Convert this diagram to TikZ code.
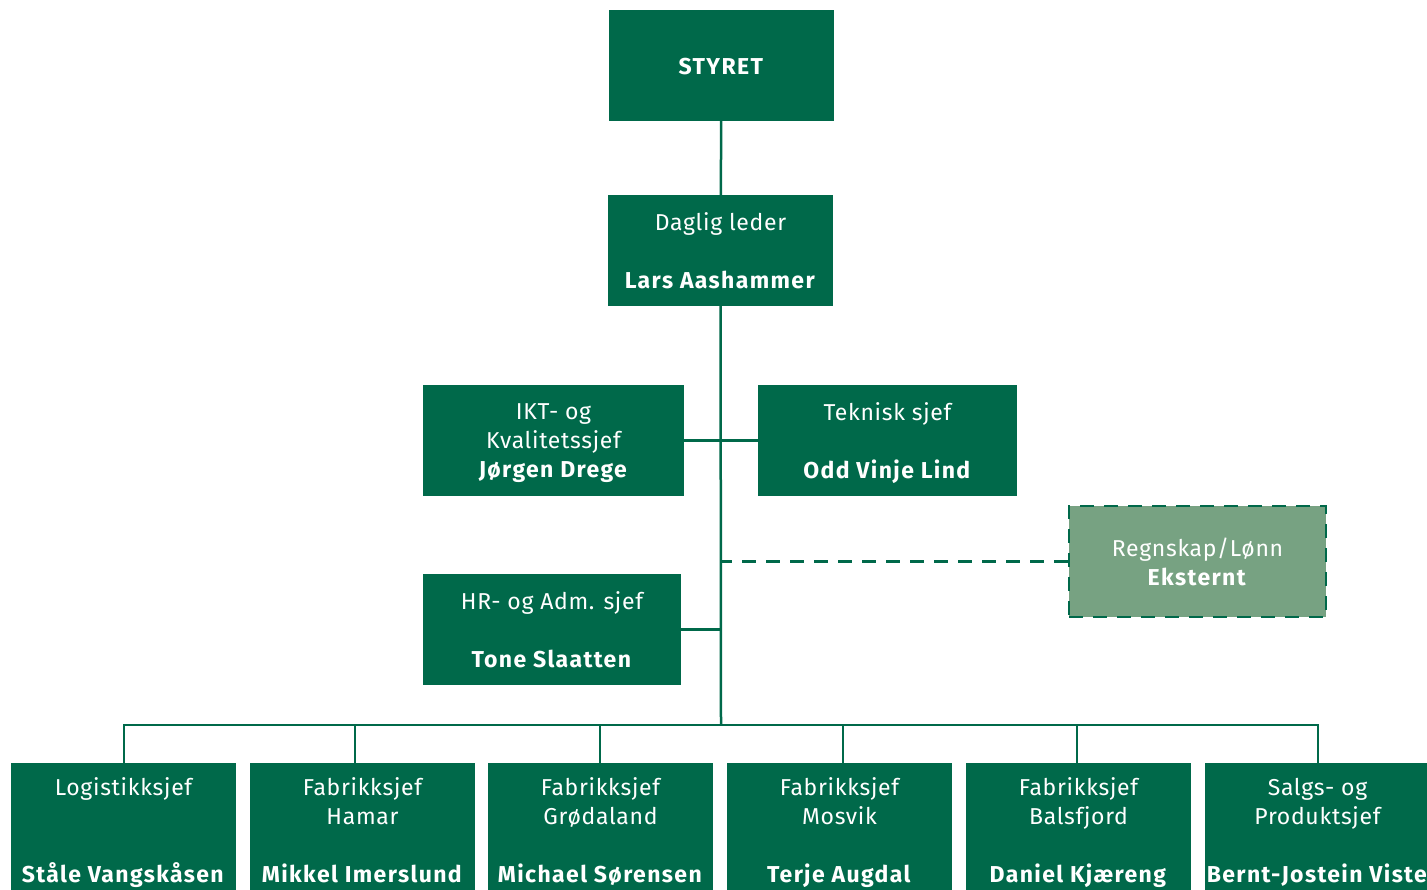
\documentclass[tikz,border=0pt]{standalone}
\usepackage{fontspec}
\setmainfont{Fira Sans}[LetterSpace=3,BoldFeatures={LetterSpace=6}]
\usepackage{tikz}
\usetikzlibrary{positioning}
\definecolor{skog}{HTML}{00694A}
\definecolor{lysgronn}{HTML}{77A282}
\newcommand{\navn}[1]{\raisebox{0pt}[\height][0pt]{\textbf{#1}}}

\begin{document}
\begin{tikzpicture}[x=1pt,y=-1pt]
        \tikzstyle{box}=[fill=skog,text=white,align=center,inner sep=0pt,
            minimum height=111pt,font=\fontsize{23}{29}\selectfont,
            execute at begin node={\rule{0pt}{17.5pt}}]
        \tikzstyle{link}=[draw=skog,line width=2.5pt]
        \useasboundingbox (0,0) rectangle (1427,890);

            \node[box,minimum width=225pt] (styret) at (721.5,65.5) {\navn{STYRET}};
            \node[box,minimum width=225pt] (leder) at (720.5,250.5)
                {Daglig leder\\[29pt]\navn{Lars Aashammer}};
            \node[box,minimum width=261pt] (ikt) at (553.5,440.5)
                {IKT- og\\Kvalitetssjef\\\navn{Jørgen Drege}};
            \node[box,minimum width=259pt] (teknisk) at (887.5,440.5)
                {Teknisk sjef\\[29pt]\navn{Odd Vinje Lind}};
            \node[box,minimum width=258pt] (hr) at (552,629.5)
                {HR- og Adm. sjef\\[29pt]\navn{Tone Slaatten}};
            \node[box,minimum width=257pt,fill=lysgronn,draw=skog,line width=2.5pt,
                dash pattern=on 14pt off 10pt] (regnskap) at (1197.5,561.5)
                {Regnskap/Lønn\\\navn{Eksternt}};

            \coordinate (bar) at (721,725);

            % avdelingene nederst
            \foreach \name/\x/\stem/\txt in {
                logistikk/123.5/0.5/{Logistikksjef\\[58pt]\navn{Ståle Vangskåsen}},
                hamar/362.5/-7.5/{Fabrikksjef\\Hamar\\[29pt]\navn{Mikkel Imerslund}},
                grodaland/600.5/-0.5/{Fabrikksjef\\Grødaland\\[29pt]\navn{Michael Sørensen}},
                mosvik/839.5/3.5/{Fabrikksjef\\Mosvik\\[29pt]\navn{Terje Augdal}},
                balsfjord/1078.5/-1.5/{Fabrikksjef\\Balsfjord\\[29pt]\navn{Daniel Kjæreng}},
                salg/1317.5/0.5/{Salgs- og\\Produktsjef\\[29pt]\navn{Bernt-Jostein Viste}}}
            {
                \node[box,minimum width=225pt,minimum height=134pt] (\name) at (\x,830) {\txt};
                \draw[link] (bar) -| ([xshift=\stem pt]\name.north);
            }

            \draw[link] (styret) -- (leder);
            \draw[link] (leder) -- (bar);
            \draw[link] (ikt.east) -- (teknisk.west);
            \draw[link] (hr.east) -- (hr.east -| bar);
            \draw[link,dash pattern=on 14pt off 10pt] (regnskap.west) -- (regnskap.west -| bar);
        \end{tikzpicture}
\end{document}
